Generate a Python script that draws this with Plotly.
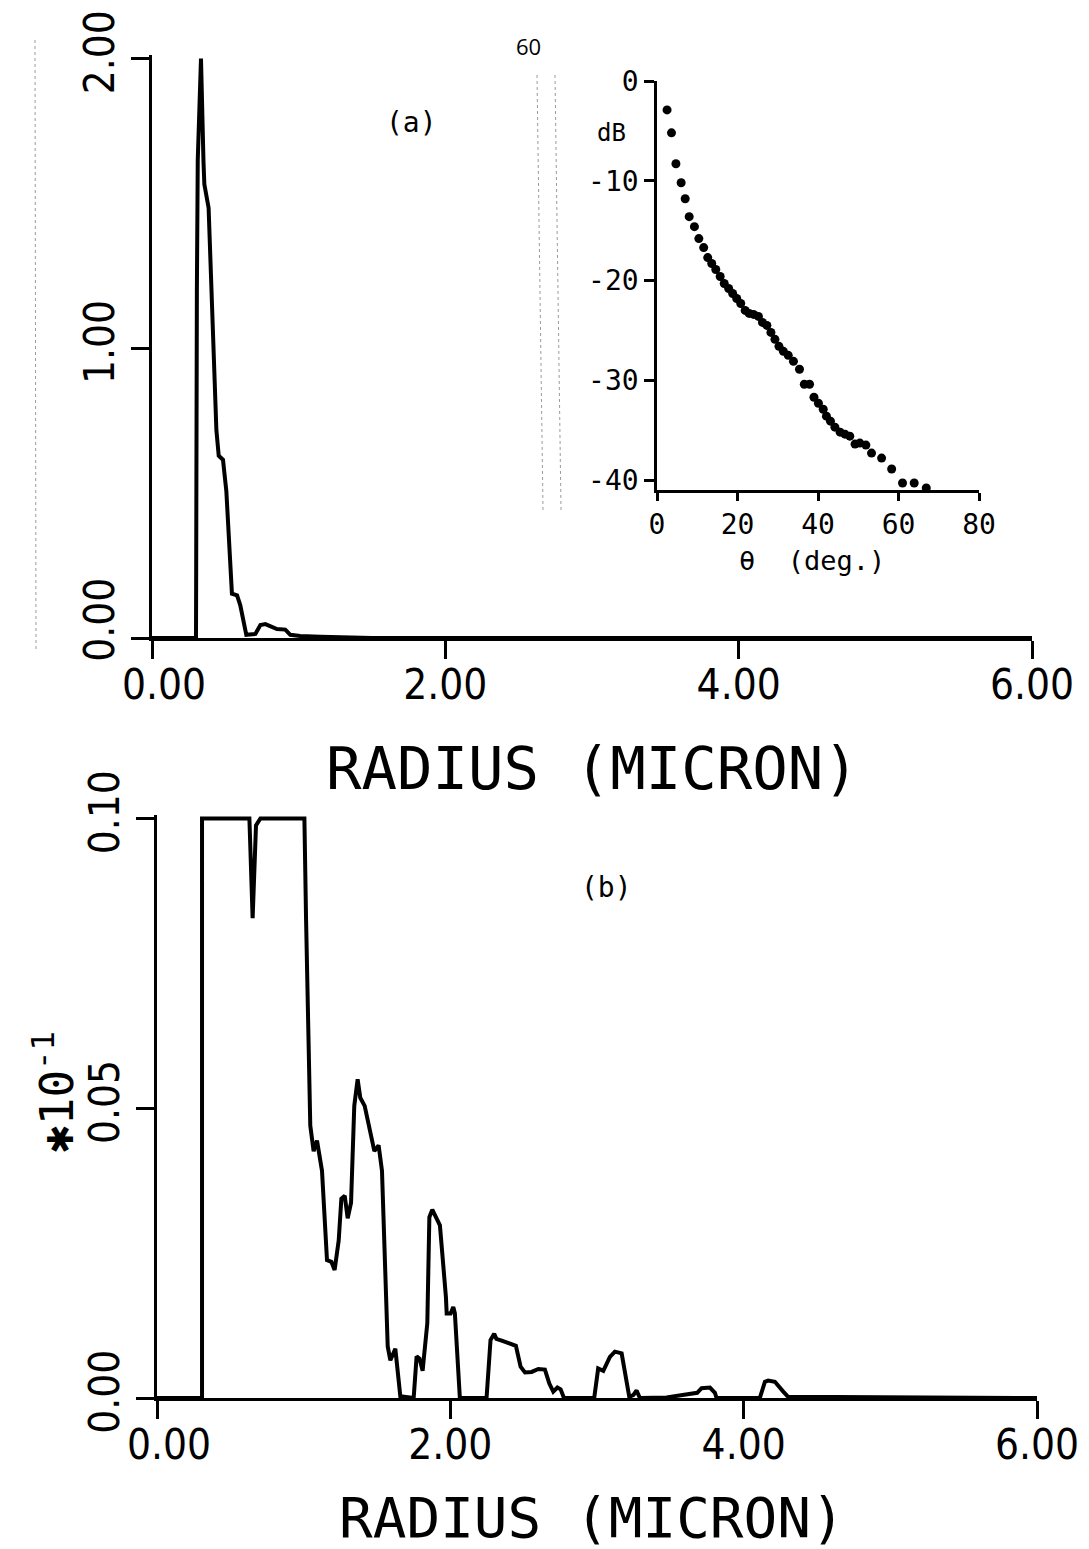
import plotly.graph_objects as go

# ---- panel (a): size distribution, radius in micron ----
radius_a = [0.0, 0.300, 0.306, 0.312, 0.334, 0.343, 0.351, 0.357, 0.386, 0.439, 0.455,
            0.484, 0.507, 0.545, 0.580, 0.602, 0.643, 0.705, 0.739, 0.773, 0.852,
            0.909, 0.943, 1.011, 1.148, 1.5, 6.0]
value_a = [0.0, 0.0, 1.20, 1.65, 2.00, 1.756, 1.645, 1.566, 1.484, 0.717, 0.629,
           0.615, 0.506, 0.153, 0.147, 0.113, 0.011, 0.014, 0.045, 0.048, 0.031,
           0.029, 0.011, 0.007, 0.004, 0.0, 0.0]

# ---- panel (b): same distribution, magnified (*10^-1) ----
radius_b = [0.0, 0.307, 0.307, 0.630, 0.652, 0.675, 0.705, 1.005, 1.016, 1.045,
            1.068, 1.091, 1.125, 1.159, 1.189, 1.211, 1.239, 1.257, 1.280, 1.300,
            1.323, 1.345, 1.368, 1.386, 1.416, 1.466, 1.482, 1.511, 1.534, 1.573,
            1.591, 1.625, 1.659, 1.750, 1.770, 1.790, 1.811, 1.843, 1.857, 1.877,
            1.902, 1.929, 1.970, 1.975, 2.002, 2.020, 2.031, 2.065, 2.247, 2.274,
            2.299, 2.314, 2.350, 2.429, 2.447, 2.479, 2.509, 2.554, 2.600, 2.645,
            2.675, 2.702, 2.730, 2.752, 2.775, 2.981, 3.008, 3.043, 3.088, 3.122,
            3.168, 3.220, 3.247, 3.270, 3.292, 3.474, 3.610, 3.683, 3.713, 3.770,
            3.804, 3.815, 4.110, 4.145, 4.167, 4.213, 4.270, 4.303, 6.0]
value_b = [0.0, 0.0, 0.100, 0.100, 0.0828, 0.0988, 0.100, 0.100, 0.0831, 0.0470,
           0.0426, 0.0444, 0.0392, 0.0238, 0.0235, 0.0221, 0.0272, 0.0344, 0.0349, 0.0310,
           0.0337, 0.0504, 0.0550, 0.0518, 0.0504, 0.0444, 0.0426, 0.0436, 0.0392, 0.0089,
           0.0065, 0.0085, 0.0003, 0.0, 0.0072, 0.0068, 0.0047, 0.0129, 0.0312, 0.0325,
           0.0312, 0.0298, 0.0174, 0.0146, 0.0146, 0.0157, 0.0146, 0.0, 0.0, 0.0100,
           0.0111, 0.0102, 0.0099, 0.0093, 0.0090, 0.0054, 0.0044, 0.0045, 0.0050, 0.0049,
           0.0025, 0.0011, 0.0018, 0.0015, 0.0, 0.0, 0.0051, 0.0047, 0.0071, 0.0080,
           0.0077, 0.0002, 0.0005, 0.0013, 0.0, 0.0001, 0.0007, 0.0009, 0.0017, 0.0018,
           0.0009, 0.0, 0.0, 0.0028, 0.0030, 0.0028, 0.0011, 0.0002, 0.0]

# ---- inset: scattered intensity (dB) vs angle (deg.) ----
theta_deg = [2.5, 3.6, 4.7, 6.0, 7.0, 8.0, 9.3, 10.4, 11.6, 12.6, 13.6, 14.6, 15.7,
             16.7, 17.8, 18.8, 19.8, 20.8, 21.9, 22.9, 24.0, 25.2, 26.2, 27.3, 28.3,
             29.3, 30.3, 31.4, 32.6, 33.9, 35.4, 36.6, 37.9, 39.0, 40.1, 41.3, 42.1,
             43.1, 44.2, 45.5, 46.7, 47.9, 49.2, 50.4, 51.9, 53.3, 55.8, 58.3, 61.0,
             63.9, 66.9]
level_db = [-2.9, -5.2, -8.3, -10.2, -11.8, -13.6, -14.6, -15.8, -16.7, -17.7, -18.3,
            -18.9, -19.6, -20.3, -20.8, -21.3, -21.8, -22.3, -23.0, -23.3, -23.4, -23.6,
            -24.2, -24.5, -25.2, -25.9, -26.6, -27.1, -27.5, -28.1, -28.9, -30.4, -30.4,
            -31.7, -32.3, -32.9, -33.6, -34.1, -34.7, -35.2, -35.4, -35.6, -36.4, -36.3,
            -36.5, -37.3, -37.8, -38.9, -40.3, -40.3, -40.8]

# tick labels; a figure space (U+2007) nudges a label clear of its neighbour
FS = "\u2007"
radius_ticks = [0, 2, 4, 6]
radius_ticktext = [FS + "0.00", "2.00", "4.00", "6.00"]
a_ticks = [0, 1, 2]
a_ticktext = [FS + "0.00", "1.00", "2.00"]
b_ticks = [0, 0.05, 0.10]
b_ticktext = ["0.00", "0.05", "0.10"]
theta_ticks = [0, 20, 40, 60, 80]
theta_ticktext = ["0", "20", "40", "60", "80"]
db_ticks = [0, -10, -20, -30, -40]
db_ticktext = ["0", "-10", "-20", "-30", "-40"]

W, H = 1089, 1549
TICK_FONT = dict(family="Liberation Sans Narrow, DejaVu Sans Condensed, DejaVu Sans Mono",
                 size=42, color="black")
TITLE_FONT = dict(family="DejaVu Sans Mono", size=59, color="black")
INSET_FONT = dict(family="DejaVu Sans Mono", size=28, color="black")

fig = go.Figure()
fig.add_trace(go.Scatter(x=radius_a, y=value_a, mode="lines",
                         line=dict(color="black", width=4),
                         xaxis="x", yaxis="y", showlegend=False))
fig.add_trace(go.Scatter(x=radius_b, y=value_b, mode="lines",
                         line=dict(color="black", width=4),
                         xaxis="x2", yaxis="y2", showlegend=False))
fig.add_trace(go.Scatter(x=theta_deg, y=level_db, mode="markers",
                         marker=dict(color="black", size=9),
                         xaxis="x3", yaxis="y3", showlegend=False))


def px_x(px):
    return px / W


def px_y(py):
    return 1 - py / H


main_axis = dict(showgrid=False, zeroline=False, showline=True, linecolor="black",
                 linewidth=3, ticks="outside", ticklen=18, tickwidth=3,
                 tickcolor="black", tickfont=TICK_FONT, automargin=False,
                 ticklabeloverflow="allow")
main_x = dict(main_axis, ticklabelstandoff=-10)

fig.update_layout(
    width=W, height=H,
    margin=dict(l=0, r=0, t=0, b=0),
    paper_bgcolor="white", plot_bgcolor="white",
    showlegend=False,
    xaxis=dict(main_x, domain=[px_x(152), px_x(1032)], range=[0, 6],
               tickvals=radius_ticks, ticktext=radius_ticktext, anchor="y"),
    yaxis=dict(main_axis, domain=[px_y(638), px_y(55)], range=[0, 2.012],
               tickvals=a_ticks, ticktext=a_ticktext, tickangle=-90, anchor="x"),
    xaxis2=dict(main_x, domain=[px_x(157), px_x(1037)], range=[0, 6],
                tickvals=radius_ticks, ticktext=radius_ticktext, anchor="y2"),
    yaxis2=dict(main_axis, domain=[px_y(1398), px_y(815)], range=[0, 0.1006],
                tickvals=b_ticks, ticktext=b_ticktext, tickangle=-90, anchor="x2"),
    xaxis3=dict(showgrid=False, zeroline=False, showline=True, linecolor="black",
                linewidth=2.5, ticks="outside", ticklen=8, tickwidth=2.5,
                tickcolor="black", tickfont=INSET_FONT, automargin=False,
                domain=[px_x(657), px_x(979)], range=[0, 80],
                tickvals=theta_ticks, ticktext=theta_ticktext, anchor="y3"),
    yaxis3=dict(showgrid=False, zeroline=False, showline=True, linecolor="black",
                linewidth=2.5, ticks="outside", ticklen=10, tickwidth=2.5,
                tickcolor="black", tickfont=INSET_FONT, automargin=False,
                domain=[px_y(490), px_y(81)], range=[-41, 0],
                tickvals=db_ticks, ticktext=db_ticktext, anchor="x3"),
)

annotations = [
    dict(text="RADIUS (MICRON)", x=px_x(592), y=px_y(768), font=TITLE_FONT),
    dict(text="RADIUS (MICRON)", x=px_x(592), y=px_y(1517),
         font=dict(TITLE_FONT, size=56)),
    dict(text="\u273110<sup>-1</sup>", x=px_x(54), y=px_y(1092), textangle=-90,
         font=dict(family="DejaVu Sans Mono, DejaVu Sans", size=46, color="black")),
    dict(text="(a)", x=px_x(411), y=px_y(122),
         font=dict(family="DejaVu Sans Mono", size=28, color="black")),
    dict(text="(b)", x=px_x(606), y=px_y(887),
         font=dict(family="DejaVu Sans Mono", size=28, color="black")),
    dict(text="dB", x=px_x(611), y=px_y(133),
         font=dict(family="DejaVu Sans Mono", size=24, color="black")),
    dict(text="\u03b8  (deg.)", x=px_x(812), y=px_y(560),
         font=dict(family="DejaVu Sans Mono", size=27, color="black")),
    dict(text="60", x=px_x(528), y=px_y(46),
         font=dict(family="Open Sans", size=22, color="black")),
]
for a in annotations:
    a.update(xref="paper", yref="paper", showarrow=False, xanchor="center", yanchor="middle")
fig.update_layout(annotations=annotations)

# faint page-edge streaks
streak = dict(type="line", xref="paper", yref="paper",
              line=dict(color="#9a9a9a", width=1, dash="dot"))
fig.update_layout(shapes=[
    dict(streak, x0=px_x(35), x1=px_x(36), y0=px_y(40), y1=px_y(650)),
    dict(streak, x0=px_x(537), x1=px_x(543), y0=px_y(75), y1=px_y(510)),
    dict(streak, x0=px_x(555), x1=px_x(561), y0=px_y(75), y1=px_y(510)),
])

fig.write_html("out.html")
